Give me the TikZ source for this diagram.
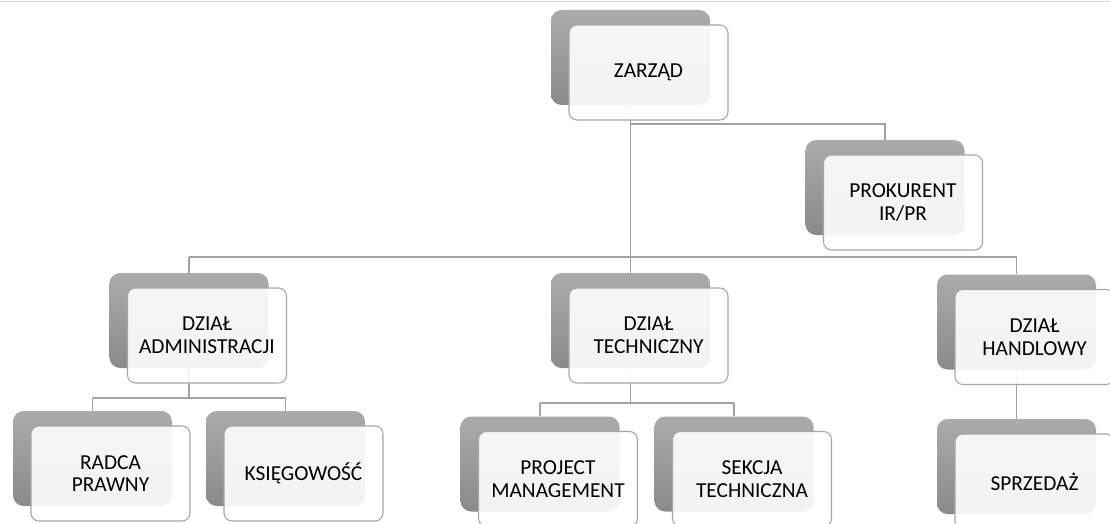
\documentclass[tikz,border=0pt]{standalone}
\usepackage{fontspec}
\setmainfont{Carlito}
\usetikzlibrary{positioning}

\definecolor{linegray}{HTML}{A3A3A3}
\definecolor{shadowtop}{HTML}{ABABAB}
\definecolor{shadowbot}{HTML}{8A8A8A}
\definecolor{boxline}{HTML}{A6A6A6}
\definecolor{rulegray}{HTML}{D9D9D9}

\begin{document}
\begin{tikzpicture}[x=0.75pt,y=-0.75pt,
	back/.style={rectangle,rounded corners=8pt,minimum width=119.25pt,minimum height=71.25pt,
		top color=shadowtop,bottom color=shadowbot,draw=none},
	front/.style={rectangle,rounded corners=6pt,minimum width=119.25pt,minimum height=71.25pt,
		draw=boxline,line width=0.8pt,fill=white,fill opacity=0.9,text opacity=1,align=center,
		xshift=13.5pt,yshift=-11.25pt,font=\fontsize{16}{17}\selectfont},
	link/.style={draw=linegray,line width=1.1pt}]
	\path[use as bounding box,clip] (0,0) rectangle (1110,524);
	\draw[rulegray,line width=1.1pt] (0,1.5) -- (1110,1.5);
	
	\node[back](zarzad) at (630.5,57.5){};
	\node[back](prokurent) at (885,187.5){};
	\node[back](admin) at (189,320.5){};
	\node[back](tech) at (630.5,320.5){};
	\node[back](handel) at (1016.5,322){};
	\node[back](radca) at (92.5,458.5){};
	\node[back](ksieg) at (285.5,458.5){};
	\node[back](project) at (540,464){};
	\node[back](sekcja) at (734,464){};
	\node[back](sprzedaz) at (1016.5,466.5){};
	
	\coordinate (bus0) at (0,124);
	\coordinate (bus1) at (0,257);
	\coordinate (busA) at (0,398);
	\coordinate (busT) at (0,403);
	
	\draw[link] (zarzad.south) -- (zarzad |- bus1);
	\draw[link] (zarzad |- bus0) -| (prokurent.north);
	\draw[link] (admin |- bus1) -- (handel |- bus1);
	\draw[link] (admin |- bus1) -- (admin.north);
	\draw[link] (tech |- bus1) -- (tech.north);
	\draw[link] (handel |- bus1) -- (handel.north);
	\draw[link] (admin.south) -- (admin |- busA);
	\draw[link] (radca |- busA) -- (ksieg |- busA);
	\draw[link] (radca |- busA) -- (radca.north);
	\draw[link] (ksieg |- busA) -- (ksieg.north);
	\draw[link] (tech.south) -- (tech |- busT);
	\draw[link] (project |- busT) -- (sekcja |- busT);
	\draw[link] (project |- busT) -- (project.north);
	\draw[link] (sekcja |- busT) -- (sekcja.north);
	\draw[link] (handel.south) -- (sprzedaz.north);
	
	\node[front](zarzadF) at (zarzad){ZARZĄD};
	\node[front](prokurentF) at (prokurent){PROKURENT\\IR/PR};
	\node[front](adminF) at (admin){DZIAŁ\\ADMINISTRACJI};
	\node[front](techF) at (tech){DZIAŁ\\TECHNICZNY};
	\node[front](handelF) at (handel){DZIAŁ\\HANDLOWY};
	\node[front](radcaF) at (radca){RADCA\\PRAWNY};
	\node[front](ksiegF) at (ksieg){KSIĘGOWOŚĆ};
	\node[front](projectF) at (project){PROJECT\\MANAGEMENT};
	\node[front](sekcjaF) at (sekcja){SEKCJA\\TECHNICZNA};
	\node[front](sprzedazF) at (sprzedaz){SPRZEDAŻ};
\end{tikzpicture}
\end{document}
